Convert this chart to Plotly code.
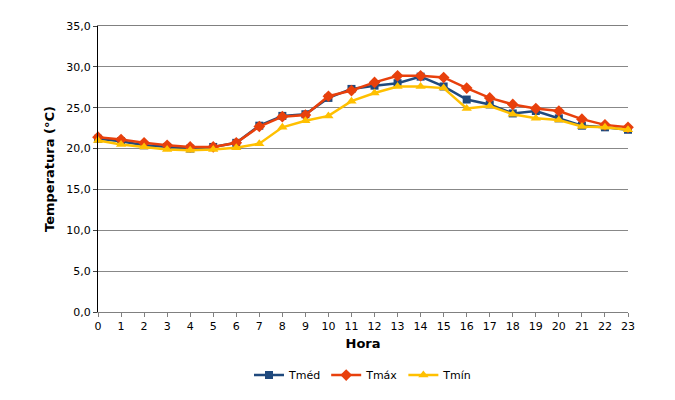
import plotly.graph_objects as go

horas = list(range(24))
tmed = [21.2,20.9,20.4,20.2,20.0,20.2,20.7,22.8,24.0,24.2,26.2,27.3,27.7,28.0,28.8,27.6,26.0,25.4,24.3,24.6,23.7,22.8,22.6,22.3]
tmax = [21.4,21.1,20.7,20.4,20.2,20.2,20.7,22.7,23.9,24.1,26.4,27.1,28.1,28.9,28.9,28.7,27.4,26.2,25.4,24.9,24.6,23.6,22.9,22.6]
tmin = [21.0,20.5,20.2,19.9,19.8,19.9,20.1,20.6,22.6,23.4,24.0,25.8,26.8,27.6,27.6,27.4,24.9,25.2,24.2,23.7,23.5,22.7,22.6,22.3]

fig = go.Figure()
fig.add_trace(go.Scatter(x=horas, y=tmed, name="Tméd", mode="lines+markers", cliponaxis=False,
    line=dict(color="#1F497D", width=2.5), marker=dict(symbol="square", size=8, color="#1F497D")))
fig.add_trace(go.Scatter(x=horas, y=tmax, name="Tmáx", mode="lines+markers", cliponaxis=False,
    line=dict(color="#E8400C", width=2.5), marker=dict(symbol="diamond", size=9, color="#E8400C")))
fig.add_trace(go.Scatter(x=horas, y=tmin, name="Tmín", mode="lines+markers", cliponaxis=False,
    line=dict(color="#FFC000", width=2.5), marker=dict(symbol="triangle-up", size=9, color="#FFC000")))

fig.update_layout(
    width=675, height=400, plot_bgcolor="white", paper_bgcolor="white",
    margin=dict(l=90, r=55, t=18, b=96, autoexpand=False),
    font=dict(family="DejaVu Sans", size=11, color="black"),
    legend=dict(orientation="h", x=0.5, xanchor="center", y=-0.17, yanchor="top",
                font=dict(size=11)),
    xaxis=dict(range=[0, 23], tickmode="array", tickvals=horas, showgrid=False, automargin=False,
               showline=True, linecolor="#808080", mirror=True, ticks="outside", ticklen=4,
               tickcolor="#808080", zeroline=False,
               title=dict(text="<b>Hora</b>", standoff=6)),
    yaxis=dict(range=[0, 35], dtick=5, tickformat=".1f", automargin=False,
               showgrid=True, gridcolor="#888888", showline=True, linecolor="black",
               ticks="outside", ticklen=4, zeroline=False,
               title=dict(text="<b>Temperatura (°C)</b>", standoff=8)),
    separators=",.",
)
fig.write_html("out.html")
